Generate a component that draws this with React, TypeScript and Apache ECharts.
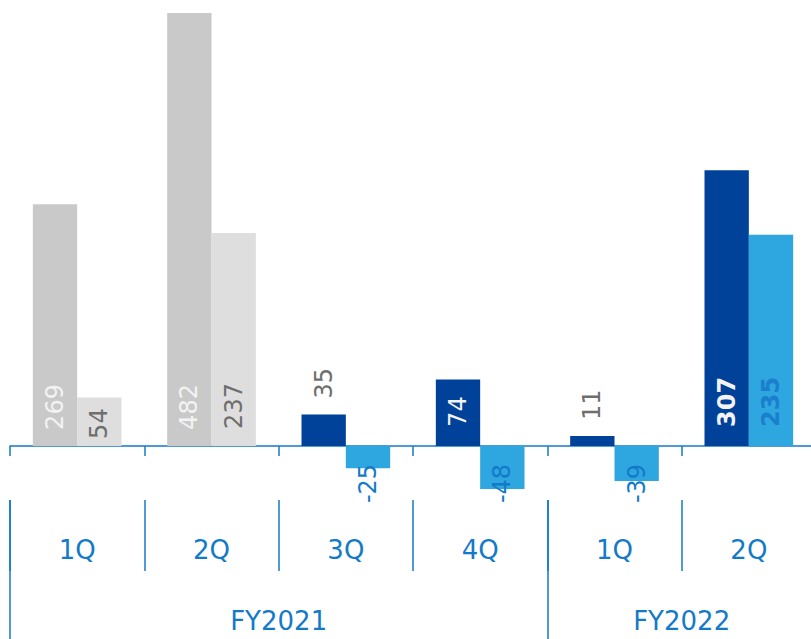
import React, { useEffect, useRef } from "react";
import * as echarts from "echarts";

// ---- data ----
const categories = ["1Q", "2Q", "3Q", "4Q", "1Q", "2Q"];
const fiscalYears = ["FY2021", "FY2022"];
const quartersPerYear = [4, 2];
const seriesA = [269, 482, 35, 74, 11, 307];
const seriesB = [54, 237, -25, -48, -39, 235];
const pastCount = 2; // first quarters drawn in grey

// ---- styles ----
const BLUE = "#137ac9";
const NAVY = "#00419a";
const SKY = "#2ea6e0";
const GREY_DARK = "#c9c9c9";
const GREY_LIGHT = "#dedede";
const TEXT_GREY = "#6e6e6e";
const TEXT_WHITE = "#f3f3f3";
const FONT = "DejaVu Sans";

export default function App() {
  const ref = useRef<HTMLDivElement>(null);

  useEffect(() => {
    if (!ref.current) return;
    const chart = echarts.init(ref.current, null, { renderer: "svg" });

    const ticks: number[] = [0];
    quartersPerYear.forEach((q) => ticks.push(ticks[ticks.length - 1] + q));
    const fyLabelPos = quartersPerYear.map((q, i) => ticks[i] + q / 2);

    const baseLabel = {
      show: true,
      rotate: 90,
      fontFamily: FONT,
      fontSize: 24,
      verticalAlign: "middle",
    };

    const labelA = (i: number, v: number) => {
      const past = i < pastCount;
      const last = i === seriesA.length - 1;
      if (v < 50) {
        return { ...baseLabel, position: "top", distance: 16, align: "left", color: TEXT_GREY };
      }
      return {
        ...baseLabel,
        position: "insideBottom",
        distance: past ? 16 : 19,
        align: "left",
        color: TEXT_WHITE,
        fontWeight: last ? "bold" : "normal",
      };
    };

    const labelB = (i: number, v: number) => {
      const past = i < pastCount;
      const last = i === seriesB.length - 1;
      if (v < 0) {
        return { ...baseLabel, position: "insideTop", distance: 18, align: "right", color: BLUE };
      }
      return {
        ...baseLabel,
        position: "insideBottom",
        distance: v < 100 ? 7 : past ? 17 : 19,
        align: "left",
        color: past ? TEXT_GREY : "#1a7fcc",
        fontWeight: last ? "bold" : "normal",
      };
    };

    const tickLine = { color: BLUE, width: 1.5 };

    chart.setOption({
      animation: false,
      grid: { left: 10, top: 13, width: 806, height: 476 },
      yAxis: { type: "value", min: "dataMin", max: "dataMax", show: false },
      xAxis: [
        {
          type: "category",
          data: categories,
          axisLine: { onZero: true, lineStyle: tickLine },
          axisTick: { show: true, length: 10, lineStyle: tickLine },
          axisLabel: { show: false },
        },
        {
          type: "category",
          data: categories,
          position: "bottom",
          offset: 11,
          axisLine: { show: false, onZero: false },
          axisTick: { show: true, length: 71, lineStyle: tickLine },
          axisLabel: { margin: 37, fontSize: 26, color: BLUE, fontFamily: FONT },
        },
        {
          type: "value",
          min: 0,
          max: ticks[ticks.length - 1],
          position: "bottom",
          offset: 11,
          splitLine: { show: false },
          axisLine: { show: false, onZero: false },
          axisTick: { show: true, customValues: ticks, length: 140, lineStyle: tickLine },
          axisLabel: {
            customValues: fyLabelPos,
            formatter: (v: number) => {
              const k = fyLabelPos.indexOf(v);
              return k >= 0 ? fiscalYears[k] : "";
            },
            margin: 108,
            fontSize: 26,
            color: BLUE,
            fontFamily: FONT,
          },
        },
      ],
      series: [
        {
          type: "bar",
          xAxisIndex: 0,
          barGap: "0%",
          barCategoryGap: "34%",
          data: seriesA.map((v, i) => ({
            value: v,
            itemStyle: { color: i < pastCount ? GREY_DARK : NAVY },
            label: labelA(i, v),
          })),
        },
        {
          type: "bar",
          xAxisIndex: 0,
          barGap: "0%",
          barCategoryGap: "34%",
          data: seriesB.map((v, i) => ({
            value: v,
            itemStyle: { color: i < pastCount ? GREY_LIGHT : SKY },
            label: labelB(i, v),
          })),
        },
      ],
    });

    return () => chart.dispose();
  }, []);

  return (
    <div
      ref={ref}
      style={{ position: "fixed", left: 0, top: 0, width: 820, height: 639, background: "#fff" }}
    />
  );
}
